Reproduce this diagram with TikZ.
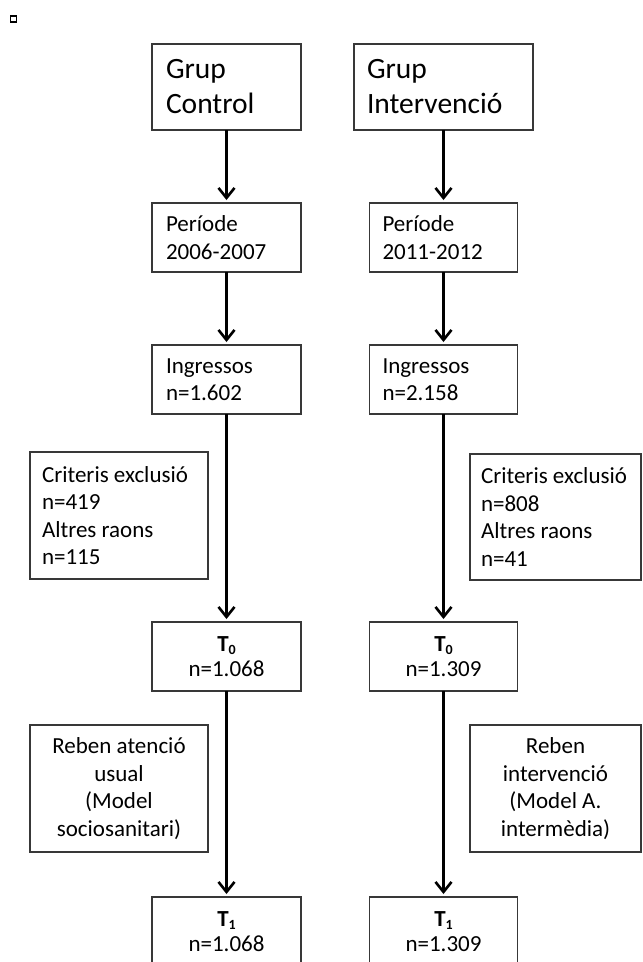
\documentclass[tikz,border=0pt]{standalone}
\usepackage{fontspec}
\setmainfont{Carlito}
\usetikzlibrary{arrows.meta}
\tikzset{
  bx/.style={draw=black!78, line width=1.1pt, inner ysep=0pt, outer sep=0pt, text=black},
  big/.style={font=\fontsize{29.5}{35}\selectfont},
  norm/.style={font=\fontsize{23}{27.5}\selectfont},
  arr/.style={line width=2.6pt, -{Straight Barb[length=10pt,width=16pt]}, shorten >=3pt},
}
\newcommand{\Tsub}[2]{\textbf{#1\raisebox{-3pt}{\fontsize{14}{14}\selectfont #2}}}
\begin{document}
\begin{tikzpicture}[x=1pt,y=-1pt]
\useasboundingbox (0,0) rectangle (643,962);
\clip (0,0) rectangle (643,962);

% small square
\node (sq) [draw=black, line width=1.6pt, minimum width=6pt, minimum height=6pt, inner sep=0pt] at (13.5,19) {};

% left column
\node (gc) [bx, big, align=flush left, inner xsep=14pt, text width=121pt, minimum width=149pt, minimum height=86pt] at (226.5,87) {Grup\\Control};
\node (p1) [bx, norm, align=flush left, inner xsep=14pt, text width=121pt, minimum width=149pt, minimum height=69pt] at (226.5,237.5) {Període\\2006-2007};
\node (i1) [bx, norm, align=flush left, inner xsep=14pt, text width=121pt, minimum width=149pt, minimum height=69pt] at (226.5,379.5) {Ingressos\\n=1.602};
\node (c1) [bx, norm, align=flush left, inner xsep=12pt, text width=154pt, minimum width=178pt, minimum height=127pt] at (119,515.5) {Criteris~exclusió\\n=419\\Altres raons\\n=115};
\node (t01) [bx, norm, align=center, minimum width=149pt, minimum height=69pt] at (226.5,656.5) {\Tsub{T}{0}\\[-2.5pt]n=1.068};
\node (r1) [bx, norm, align=center, minimum width=178pt, minimum height=127pt] at (119,788.5) {Reben atenció\\usual\\(Model\\sociosanitari)};
\node (t11) [bx, norm, align=center, minimum width=149pt, minimum height=69pt] at (226.5,931.5) {\Tsub{T}{1}\\[-2.5pt]n=1.068};

% right column
\node (gi) [bx, big, align=flush left, inner xsep=13pt, text width=153pt, minimum width=179pt, minimum height=86pt] at (443.5,87) {Grup\\Intervenció};
\node (p2) [bx, norm, align=flush left, inner xsep=13pt, text width=122pt, minimum width=148pt, minimum height=69pt] at (443.5,237.5) {Període\\2011-2012};
\node (i2) [bx, norm, align=flush left, inner xsep=13pt, text width=122pt, minimum width=148pt, minimum height=69pt] at (443.5,379.5) {Ingressos\\n=2.158};
\node (c2) [bx, norm, align=flush left, inner xsep=11pt, text width=149pt, minimum width=171pt, minimum height=126pt] at (555.5,517) {Criteris~exclusió\\n=808\\Altres raons\\n=41};
\node (t02) [bx, norm, align=center, minimum width=148pt, minimum height=69pt] at (443.5,656.5) {\Tsub{T}{0}\\[-2.5pt]n=1.309};
\node (r2) [bx, norm, align=center, minimum width=171pt, minimum height=127pt] at (555.5,788.5) {Reben\\intervenció\\(Model A.\\intermèdia)};
\node (t12) [bx, norm, align=center, minimum width=148pt, minimum height=69pt] at (443.5,931.5) {\Tsub{T}{1}\\[-2.5pt]n=1.309};

% arrows
\draw[arr] (gc.south) -- (p1.north);
\draw[arr] (p1.south) -- (i1.north);
\draw[arr] (i1.south) -- (t01.north);
\draw[arr] (t01.south) -- (t11.north);
\draw[arr] (gi.south) -- (p2.north);
\draw[arr] (p2.south) -- (i2.north);
\draw[arr] (i2.south) -- (t02.north);
\draw[arr] (t02.south) -- (t12.north);
\end{tikzpicture}
\end{document}
